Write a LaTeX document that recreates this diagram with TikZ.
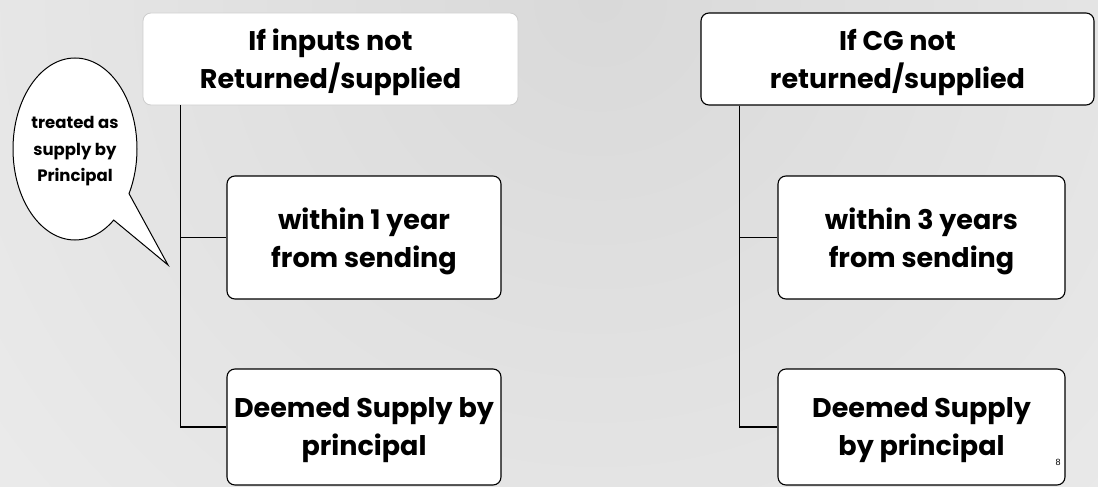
\documentclass[tikz,border=0pt]{standalone}
\usepackage{fontspec}
\setmainfont{Poppins}
\newfontfamily\pagefont{Liberation Sans}
\usetikzlibrary{shapes.callouts, positioning}

\definecolor{bggray}{HTML}{D9D9D9}
\definecolor{bgwhite}{HTML}{FDFDFD}
\definecolor{softedge}{HTML}{CDCDCD}
\pgfdeclareradialshading{topglow}{\pgfpoint{0bp}{0bp}}{color(0bp)=(bggray); color(50bp)=(bgwhite); color(72bp)=(bgwhite)}

\tikzset{
	flowbox/.style={draw=black, line width=1.1pt, rounded corners=8pt, fill=white,
		align=center, inner sep=0pt, text depth=0pt,
		font=\fontsize{27}{38}\selectfont\bfseries},
	branch/.style={line width=1.3pt, draw=black},
	bubble/.style={ellipse callout, draw=black, line width=1pt, fill=white,
		align=center, inner sep=0pt, text depth=0pt, callout pointer arc=22,
		font=\fontsize{16.5}{26.5}\selectfont\bfseries}
}

\begin{document}
\begin{tikzpicture}[x=1pt, y=1pt]
				\useasboundingbox (0,0) rectangle (1098,-487);
				% background gradient, darkest at the top middle
				\begin{scope}
					\clip (0,0) rectangle (1098,-487);
					\shade[shading=topglow] (600,0) circle (800);
				\end{scope}

				% left column
				\node[flowbox, draw=softedge, line width=0.8pt, minimum width=375pt, minimum height=92pt]
					(hdrA) at (330.5,-59) {If inputs not\\Returned/supplied};
				\node[flowbox, minimum width=274pt, minimum height=123pt]
					(yrA) at (364,-237.5) {within 1 year\\from sending};
				\node[flowbox, minimum width=274pt, minimum height=116pt]
					(dsA) at (364,-427) {Deemed Supply by\\principal};

				% right column
				\node[flowbox, minimum width=393pt, minimum height=92pt]
					(hdrB) at (897.5,-59) {If CG not\\returned/supplied};
				\node[flowbox, minimum width=287pt, minimum height=123pt]
					(yrB) at (921.5,-237.5) {within 3 years\\from sending};
				\node[flowbox, minimum width=287pt, minimum height=116pt]
					(dsB) at (921.5,-427) {Deemed Supply\\by principal};

				% connecting lines
				\foreach \col/\dx in {A/38,B/39} {
					\draw[branch] ([xshift=\dx pt]hdr\col.south west) |- (yr\col.west);
					\draw[branch] ([xshift=\dx pt]hdr\col.south west) |- (ds\col.west);
				}

				% speech bubble
				\coordinate (tip) at (168,-265);
				\node[bubble, minimum width=124pt, minimum height=182pt, callout absolute pointer={(tip)}]
					(note) at (75,-149) {treated as\\supply by\\Principal};

				\node[font=\pagefont\fontsize{9}{10}\selectfont] (pgno) at (1058,-462) {8};
\end{tikzpicture}
\end{document}
